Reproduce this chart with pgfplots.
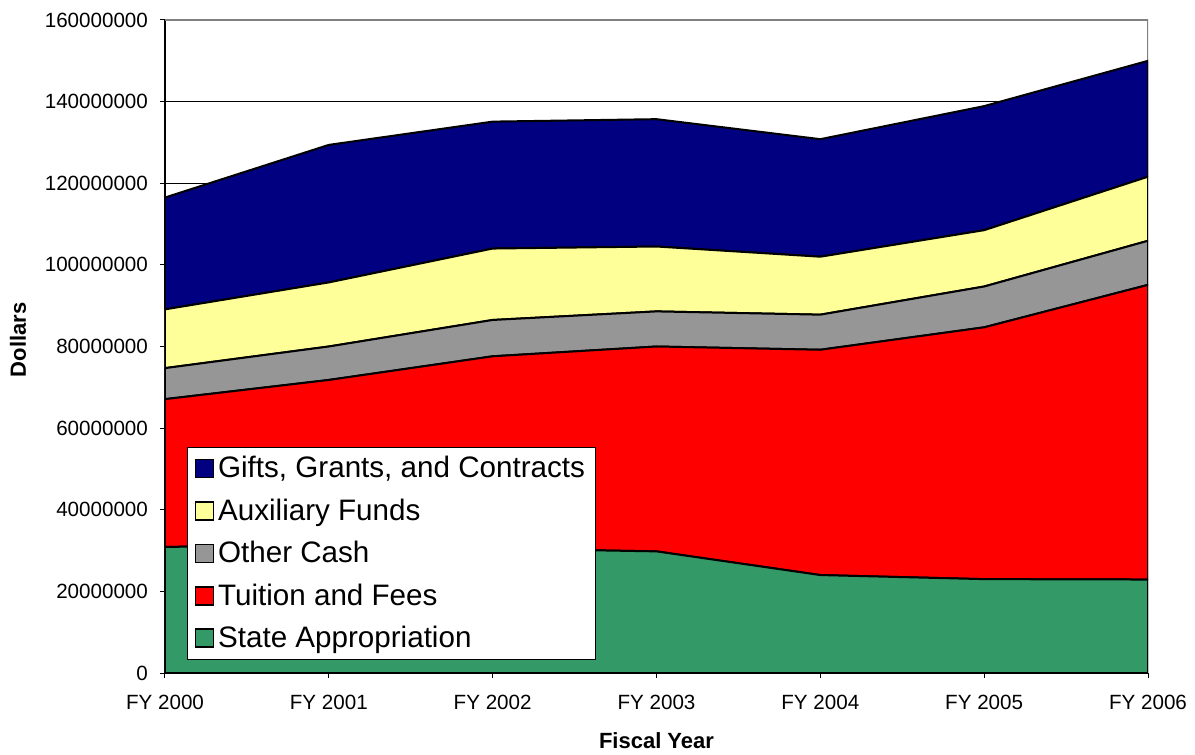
\documentclass[border=0pt]{standalone}
\usepackage{pgfplots}
\pgfplotsset{compat=1.18}
\usepackage{fontspec}
\setmainfont{Liberation Sans}
\usetikzlibrary{calc}
\definecolor{cgifts}{RGB}{0,0,128}
\definecolor{caux}{RGB}{255,255,153}
\definecolor{cother}{RGB}{150,150,150}
\definecolor{ctuition}{RGB}{255,0,0}
\definecolor{cstate}{RGB}{51,153,102}
\begin{document}
\begin{tikzpicture}
\begin{axis}[
  name=ax,
  scale only axis,
  width=491.5pt, height=326.5pt,
  xmin=0, xmax=6, ymin=0, ymax=160000000,
  xtick={0,1,2,3,4,5,6},
  xticklabels={FY 2000,FY 2001,FY 2002,FY 2003,FY 2004,FY 2005,FY 2006},
  ytick={0,20000000,40000000,60000000,80000000,100000000,120000000,140000000,160000000},
  yticklabels={0,20000000,40000000,60000000,80000000,100000000,120000000,140000000,160000000},
  scaled y ticks=false,
  tick label style={font=\fontsize{10.3}{12}\selectfont},
  yticklabel style={xshift=-2.5pt},
  xticklabel style={yshift=-5pt},
  /pgf/number format/assume math mode=true,
  axis lines=left,
  axis line style={black, line width=0.6pt, -},
  tick align=outside,
  major tick length=2.5pt,
  tick style={black, line width=0.5pt},
  ymajorgrids,
  grid style={black, line width=0.4pt},
  xlabel={\textbf{Fiscal Year}},
  ylabel={\textbf{Dollars}},
  label style={font=\fontsize{11}{13}\selectfont},
  xlabel style={at={(axis description cs:0.5,0)}, anchor=center, yshift=-34pt},
  ylabel style={at={(axis description cs:-0.1495,0.51)}, anchor=center},
  stack plots=y,
  reverse legend,
  legend style={at={(rel axis cs:0.0224,0.0199)}, anchor=south west,
    draw=black, line width=0.5pt, fill=white,
    font=\fontsize{14.8}{17.8}\selectfont, row sep=5pt,
    inner xsep=3.5pt, inner ysep=2.5pt},
  legend cell align=left,
  legend image code/.code={\draw[#1, line width=0.8pt] (-0.5pt,-4.5pt) rectangle (8.5pt,4.5pt);},
  every axis plot/.append style={draw=black, line width=1pt},
]
\addplot[fill=cstate] coordinates {(0,30900000) (1,31300000) (2,30500000) (3,29800000) (4,24000000) (5,23000000) (6,22900000)} \closedcycle;
\addplot[fill=ctuition] coordinates {(0,36200000) (1,40500000) (2,47100000) (3,50200000) (4,55200000) (5,61700000) (6,72200000)} \closedcycle;
\addplot[fill=cother] coordinates {(0,7600000) (1,8200000) (2,8900000) (3,8600000) (4,8600000) (5,10000000) (6,10800000)} \closedcycle;
\addplot[fill=caux] coordinates {(0,14400000) (1,15700000) (2,17500000) (3,15900000) (4,14200000) (5,13800000) (6,15700000)} \closedcycle;
\addplot[fill=cgifts] coordinates {(0,27400000) (1,33700000) (2,31100000) (3,31200000) (4,28800000) (5,30400000) (6,28400000)} \closedcycle;
\legend{State Appropriation,Tuition and Fees,Other Cash,Auxiliary Funds,{Gifts, Grants, and Contracts}}
\draw[gray, line width=0.8pt] (rel axis cs:0,1) -- (rel axis cs:1,1) -- (rel axis cs:1,0);
\end{axis}
\pgfresetboundingbox
\path ($(ax.south west)+(-82.5pt,-40.5pt)$) rectangle ($(ax.north east)+(23.5pt,10pt)$);
\end{tikzpicture}
\end{document}
